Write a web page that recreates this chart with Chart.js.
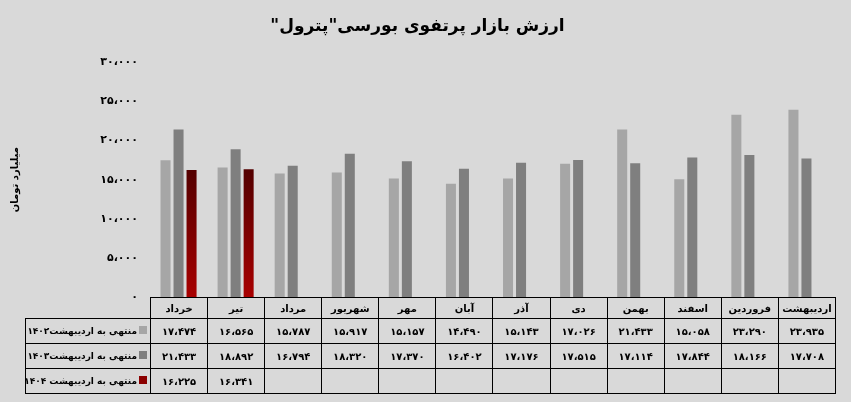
<!DOCTYPE html>
<html>
<head>
<meta charset="utf-8">
<script src="https://cdn.jsdelivr.net/npm/chart.js@4.4.1/dist/chart.umd.min.js"></script>
<style>
  body { margin: 0; background: #d9d9d9; font-family: "DejaVu Sans", sans-serif; }
  #wrap { position: relative; width: 851px; height: 402px; }
  #dataTable { position: absolute; border-collapse: collapse; table-layout: fixed; direction: ltr; }
  #dataTable td { border: 1px solid #000; text-align: center; font-weight: bold; font-size: 10px; padding: 0; color: #000; white-space: nowrap; }
  #dataTable td.blank { border: none; }
  #dataTable td.leg { text-align: right; direction: rtl; font-size: 9px; padding-right: 3px; }
  .sq { display: inline-block; width: 8px; height: 8px; margin-left: 2px; vertical-align: 0px; }
</style>
</head>
<body>
<div id="wrap">
  <canvas id="chart" width="851" height="402"></canvas>
  <table id="dataTable"></table>
</div>
<script>
// ===== DATA =====
const months = ["خرداد", "تیر", "مرداد", "شهریور", "مهر", "آبان", "آذر", "دی", "بهمن", "اسفند", "فروردین", "اردیبهشت"];
const seriesNames = ["منتهی به  اردیبهشت۱۴۰۲", "منتهی به اردیبهشت۱۴۰۳", "منتهی به اردیبهشت ۱۴۰۴"];
const values1402 = [17474, 16565, 15787, 15917, 15157, 14490, 15143, 17026, 21433, 15058, 23290, 23935];
const values1403 = [21433, 18892, 16794, 18320, 17370, 16402, 17176, 17515, 17114, 17844, 18166, 17708];
const values1404 = [16225, 16341, null, null, null, null, null, null, null, null, null, null];
const yTicks = [0, 5000, 10000, 15000, 20000, 25000, 30000];

const colors = ["#a6a6a6", "#7f7f7f", "#8b0000"];

// persian digits with arabic comma
function fa(n) {
  return n.toLocaleString("en-US").replace(/,/g, "،").replace(/\d/g, d => "۰۱۲۳۴۵۶۷۸۹"[d]);
}

function redGradient(context) {
  const chart = context.chart;
  const area = chart.chartArea;
  if (!area) return colors[2];
  const g = chart.ctx.createLinearGradient(0, area.top + 105, 0, area.bottom);
  g.addColorStop(0, "#520000");
  g.addColorStop(1, "#a80000");
  return g;
}

const chart = new Chart(document.getElementById("chart").getContext("2d"), {
  type: "bar",
  data: {
    labels: months,
    datasets: [
      { label: seriesNames[0], data: values1402, backgroundColor: colors[0] },
      { label: seriesNames[1], data: values1403, backgroundColor: colors[1] },
      { label: seriesNames[2], data: values1404, backgroundColor: redGradient }
    ]
  },
  options: {
    responsive: false,
    animation: false,
    devicePixelRatio: 1,
    layout: { padding: { left: 0, right: 16, top: 0, bottom: 105 } },
    datasets: { bar: { categoryPercentage: 0.684, barPercentage: 0.77 } },
    plugins: {
      legend: { display: false },
      tooltip: { enabled: false },
      title: {
        display: true,
        // RLM keeps the closing quote on the left side
        text: '\u200Fارزش بازار پرتفوی بورسی"پترول"\u200F',
        color: "#000",
        font: { family: "DejaVu Sans", size: 17, weight: "bold" },
        padding: { top: 16, bottom: 26 }
      }
    },
    scales: {
      x: { display: false },
      y: {
        min: 0,
        max: 30000,
        afterFit: s => { s.width = 150; },
        afterBuildTicks: s => { s.ticks = yTicks.map(v => ({ value: v })); },
        grid: { display: false, drawTicks: false },
        border: { display: false },
        ticks: {
          padding: 12,
          color: "#000",
          font: { family: "DejaVu Sans", size: 11, weight: "bold" },
          callback: v => fa(v)
        },
        title: {
          display: true,
          text: "میلیارد تومان",
          color: "#000",
          font: { family: "DejaVu Sans", size: 10, weight: "bold" },
          padding: { top: 9, bottom: 0 }
        }
      }
    }
  }
});

// ===== DATA TABLE UNDER THE CHART =====
const area = chart.chartArea;
const table = document.getElementById("dataTable");
const legendWidth = 125;
const colWidth = (area.right - area.left) / months.length;
table.style.left = (area.left - legendWidth) + "px";
table.style.top = area.bottom + "px";
table.style.width = (area.right - area.left + legendWidth) + "px";

let html = `<colgroup><col style="width:${legendWidth}px">` +
  months.map(() => `<col style="width:${colWidth}px">`).join("") + "</colgroup>";
html += `<tr style="height:21px"><td class="blank"></td>` + months.map(m => `<td>${m}</td>`).join("") + "</tr>";
[values1402, values1403, values1404].forEach((vals, i) => {
  html += `<tr style="height:25px"><td class="leg"><span class="sq" style="background:${colors[i]}"></span>${seriesNames[i]}</td>`;
  html += vals.map(v => `<td>${v == null ? "" : fa(v)}</td>`).join("") + "</tr>";
});
table.innerHTML = html;
</script>
</body>
</html>
